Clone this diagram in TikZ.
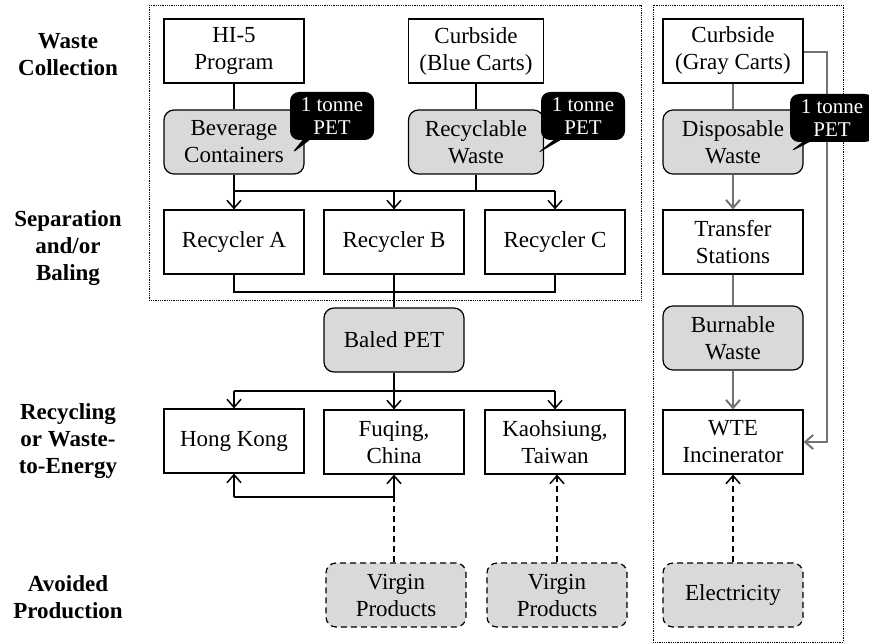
\documentclass[tikz,border=0pt]{standalone}
\usepackage{fontspec}
\setmainfont{Liberation Serif}
\usetikzlibrary{shapes.callouts,arrows.meta}
\tikzset{box/.style={draw,line width=1.2pt,minimum width=140pt,minimum height=64pt,align=center,inner sep=2pt}}
\tikzset{gbox/.style={box,fill=black!15,rounded corners=10pt}}
\tikzset{dash6/.style={dash pattern=on 6pt off 4pt}}
\tikzset{vbox/.style={gbox,dash6}}
\tikzset{lbl/.style={align=center,font=\fontsize{23}{27}\selectfont\bfseries}}
\tikzset{tag/.style={rectangle callout,fill=black,text=white,rounded corners=9pt,minimum width=84pt,minimum height=48pt,align=center,inner sep=1pt,font=\fontsize{21}{23}\selectfont}}
\tikzset{gline/.style={draw=black!55,line width=2pt}}
\tikzset{frame/.style={densely dotted,line width=0.8pt}}

\begin{document}
\begin{tikzpicture}[x=1pt,y=-1pt,line width=1.5pt,>={Straight Barb[length=8pt,width=14pt]},font=\fontsize{23}{27}\selectfont]
\useasboundingbox (0,0) rectangle (869,644);
\draw[frame] (149,5) rectangle (641,300);
\draw[frame] (653,5) rectangle (843,642);
% row labels
\node[lbl] (lwaste) at (68,55) {Waste\\Collection};
\node[lbl] (lsep) at (68,248) {Separation\\and/or\\Baling};
\node[lbl] (lrec) at (68,441) {Recycling\\or Waste-\\to-Energy};
\node[lbl] (lavo) at (68,597) {Avoided\\Production};
% collection
\node[box] (hi5) at (234,51) {HI-5\\Program};
\node[box,minimum width=135pt] (blue) at (476,51) {Curbside\\(Blue Carts)};
\node[box] (gray) at (733,51) {Curbside\\(Gray Carts)};
\node[gbox] (bev) at (234,142) {Beverage\\Containers};
\node[gbox,minimum width=135pt] (recw) at (476,142) {Recyclable\\Waste};
\node[gbox] (disp) at (733,142) {Disposable\\Waste};
% separation
\node[box] (recA) at (234,242) {Recycler A};
\node[box] (recB) at (394,242) {Recycler B};
\node[box] (recC) at (555,242) {Recycler C};
\node[box] (trans) at (733,242) {Transfer\\Stations};
\node[gbox] (baled) at (394,340) {Baled PET};
\node[gbox] (burn) at (733,338) {Burnable\\Waste};
% recycling / wte
\node[box] (hk) at (234,441) {Hong Kong};
\node[box] (fq) at (394,442) {Fuqing,\\China};
\node[box] (kh) at (555,442) {Kaohsiung,\\Taiwan};
\node[box] (wte) at (733,442) {WTE\\Incinerator};
% avoided
\node[vbox] (vp1) at (396,595) {Virgin\\Products};
\node[vbox] (vp2) at (557,595) {Virgin\\Products};
\node[vbox] (elec) at (733,595) {Electricity};
% left flows
\coordinate (s1) at (394,191);
\coordinate (s2) at (394,292);
\coordinate (s3) at (394,391);
\coordinate (s4) at (394,497);
\draw (hi5) -- (bev);
\draw (blue) -- (recw);
\draw (bev.south) -- (bev.south |- s1);
\draw (recw.south) -- (recw.south |- s1);
\draw (recA.north |- s1) -- (recC.north |- s1);
\foreach \n in {recA,recB,recC} \draw[->] (\n.north |- s1) -- (\n.north);
\draw (recA.south) -- (recA.south |- s2) -| (recC.south);
\draw (recB.south) -- (baled.north);
\draw (baled.south) -- (s3);
\draw (hk.north |- s3) -- (kh.north |- s3);
\foreach \n in {hk,fq,kh} \draw[->] (\n.north |- s3) -- (\n.north);
\draw (hk.south |- s4) -- (s4);
\draw[->] (hk.south |- s4) -- (hk.south);
\draw[->] (s4) -- (fq.south);
\draw[dash6] (vp1.north -| s4) -- (s4);
\draw[dash6,->] (vp2.north) -- (vp2.north |- kh.south);
% right flows
\draw[gline] (gray) -- (disp);
\draw[gline,->] (disp) -- (trans);
\draw[gline] (trans) -- (burn);
\draw[gline,->] (burn) -- (wte);
\draw[dash6,->] (elec) -- (wte);
\coordinate (byp) at (827,52);
\draw[gline,->] (gray.east |- byp) -- (byp) |- (wte.east);
% callouts on top
\coordinate (t1) at (290,155);
\coordinate (t2) at (535,155);
\coordinate (t3) at (788,153);
\node[tag,callout absolute pointer={(t1)}] (pet1) at (332,116) {1 tonne\\PET};
\node[tag,callout absolute pointer={(t2)}] (pet2) at (583,116) {1 tonne\\PET};
\node[tag,callout absolute pointer={(t3)}] (pet3) at (832,118) {1 tonne\\PET};
\end{tikzpicture}
\end{document}
